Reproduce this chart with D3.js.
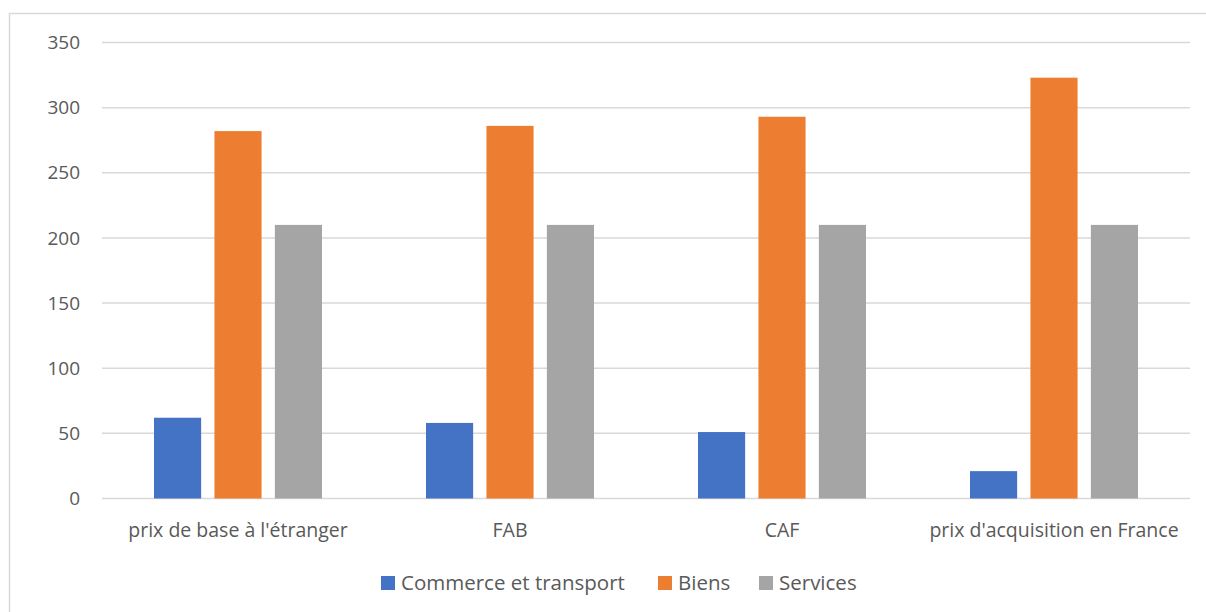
<!DOCTYPE html>
<html>
<head>
<meta charset="utf-8">
<script src="https://cdn.jsdelivr.net/npm/d3@7"></script>
<style>
  body { margin: 0; background: #fff; }
  text { font-family: "Open Sans", "Liberation Sans", sans-serif; fill: #595959; }
</style>
</head>
<body>
<div id="chart"></div>
<script>
const categories = ["prix de base à l'étranger", "FAB", "CAF", "prix d'acquisition en France"];
const seriesNames = ["Commerce et transport", "Biens", "Services"];
const commerce = [62, 58, 51, 21];
const biens = [282, 286, 293, 323];
const services = [210, 210, 210, 210];
const yTicks = [0, 50, 100, 150, 200, 250, 300, 350];
const colors = ["#4472c4", "#ed7d31", "#a5a5a5"];

const width = 1206, height = 612;
const plotLeft = 102, plotRight = 1190, plotTop = 42.5, plotBottom = 498.5;

const svg = d3.select("#chart").append("svg")
    .attr("width", width)
    .attr("height", height);

// chart border
svg.append("rect")
    .attr("x", 9.5).attr("y", 13.5)
    .attr("width", 1210).attr("height", 620)
    .attr("fill", "none")
    .attr("stroke", "#d9d9d9")
    .attr("stroke-width", 1.5);

const x = d3.scaleBand().domain(categories).range([plotLeft, plotRight]);
const y = d3.scaleLinear().domain([0, 350]).range([plotBottom, plotTop]);
const xSub = d3.scaleBand().domain(seriesNames).range([x.bandwidth() / 2 - 84, x.bandwidth() / 2 + 84]).paddingInner(0.22);

// gridlines
svg.append("g")
    .selectAll("line")
    .data(yTicks)
    .enter()
    .append("line")
    .attr("x1", plotLeft).attr("x2", plotRight)
    .attr("y1", d => y(d)).attr("y2", d => y(d))
    .attr("stroke", "#d9d9d9")
    .attr("stroke-width", 1.5);

// y labels
svg.append("g")
    .selectAll("text")
    .data(yTicks)
    .enter()
    .append("text")
    .attr("x", 80)
    .attr("y", d => y(d))
    .attr("dy", "0.35em")
    .attr("text-anchor", "end")
    .style("font-size", "19px")
    .text(d => d);

const rows = categories.map((c, i) => ({
    cat: c,
    values: [commerce[i], biens[i], services[i]]
}));

const groups = svg.append("g")
    .selectAll("g")
    .data(rows)
    .enter()
    .append("g")
    .attr("transform", d => `translate(${x(d.cat)},0)`);

groups.selectAll("rect")
    .data(d => d.values.map((v, j) => ({ name: seriesNames[j], v: v, j: j })))
    .enter()
    .append("rect")
    .attr("x", d => xSub(d.name))
    .attr("width", xSub.bandwidth())
    .attr("y", d => y(d.v))
    .attr("height", d => y(0) - y(d.v))
    .attr("fill", d => colors[d.j]);

// category labels
svg.append("g")
    .selectAll("text")
    .data(categories)
    .enter()
    .append("text")
    .attr("x", d => x(d) + x.bandwidth() / 2)
    .attr("y", 530)
    .attr("dy", "0.35em")
    .attr("text-anchor", "middle")
    .style("font-size", "19.5px")
    .text(d => d);

// legend
const legendX = [381, 658, 759];
const legend = svg.append("g")
    .selectAll("g")
    .data(seriesNames)
    .enter()
    .append("g")
    .attr("transform", (d, i) => `translate(${legendX[i]},583)`);

legend.append("rect")
    .attr("x", 0).attr("y", -7)
    .attr("width", 14).attr("height", 14)
    .attr("fill", (d, i) => colors[i]);

legend.append("text")
    .attr("x", 20)
    .attr("dy", "0.35em")
    .style("font-size", "20.5px")
    .text(d => d);
</script>
</body>
</html>
